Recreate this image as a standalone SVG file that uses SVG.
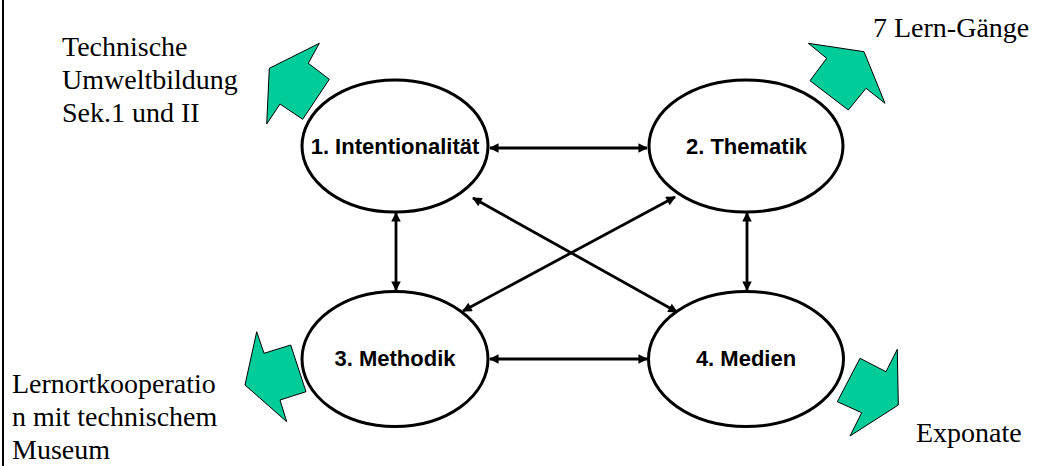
<svg xmlns="http://www.w3.org/2000/svg" width="1038" height="466" viewBox="0 0 1038 466">
<style>
.node ellipse{fill:#fff;stroke:#000;stroke-width:3}
.nl{font-family:"Liberation Sans",Arial,sans-serif;font-weight:bold;font-size:22px;fill:#000;text-anchor:middle}
.lb{font-family:"Liberation Serif","Times New Roman",serif;font-size:28px;fill:#000}
.big{fill:#00cc99;stroke:#000;stroke-width:1}
.conn line{stroke:#000;stroke-width:2.8;marker-start:url(#ah);marker-end:url(#ah)}
</style>
<defs>
<marker id="ah" viewBox="0 0 10 10" refX="9" refY="5" markerWidth="4.2" markerHeight="3.4" orient="auto-start-reverse" markerUnits="strokeWidth">
<path d="M0,0 L10,5 L0,10 z" fill="#000"/>
</marker>
</defs>
<rect width="1038" height="466" fill="#fff"/>
<line x1="3" y1="0" x2="3" y2="466" stroke="#000" stroke-width="2"/>
<g id="bigarrows">
<polygon class="big" points="319.3,43.3 308.3,63.3 329.3,79.3 302.7,119.3 280,104 266.7,124 269.3,68.3"/>
<polygon class="big" points="808.3,43.3 826.7,58.3 810,80.7 848.3,110 866,88.3 885,103.3 864,51.7"/>
<polygon class="big" points="256.7,331.7 264,353.3 290.7,345 306,391.7 280,400 286.7,421.7 245,385"/>
<polygon class="big" points="897.3,349.3 886,371.7 860,358.3 837.3,401.7 861.7,412.7 850,436 898.3,405"/>
</g>
<g class="conn" id="connectors">
<line x1="490" y1="148" x2="647" y2="148"/>
<line x1="490" y1="359" x2="647" y2="359"/>
<line x1="396" y1="213" x2="396" y2="290"/>
<line x1="747" y1="213" x2="747" y2="290"/>
<line x1="473" y1="198" x2="677" y2="312"/>
<line x1="675" y1="197" x2="463" y2="311"/>
</g>
<g id="n1" class="node"><ellipse cx="395" cy="146" rx="93" ry="66"/><text class="nl" x="395" y="154">1. Intentionalität</text></g>
<g id="n2" class="node"><ellipse cx="746" cy="146" rx="97" ry="66"/><text class="nl" x="746.5" y="154">2. Thematik</text></g>
<g id="n3" class="node"><ellipse cx="395" cy="359" rx="93" ry="67.5"/><text class="nl" x="395" y="366">3. Methodik</text></g>
<g id="n4" class="node"><ellipse cx="746" cy="359" rx="97.5" ry="67.5"/><text class="nl" x="746" y="366">4. Medien</text></g>
<g id="labels">
<text class="lb" x="62" y="56">Technische</text>
<text class="lb" x="62" y="89">Umweltbildung</text>
<text class="lb" x="62" y="122">Sek.1 und II</text>
<text class="lb" x="873" y="37">7 Lern-Gänge</text>
<text class="lb" x="916" y="442">Exponate</text>
<text class="lb" x="12" y="393">Lernortkooperatio</text>
<text class="lb" x="12" y="426">n mit technischem</text>
<text class="lb" x="12" y="459">Museum</text>
</g>
</svg>
